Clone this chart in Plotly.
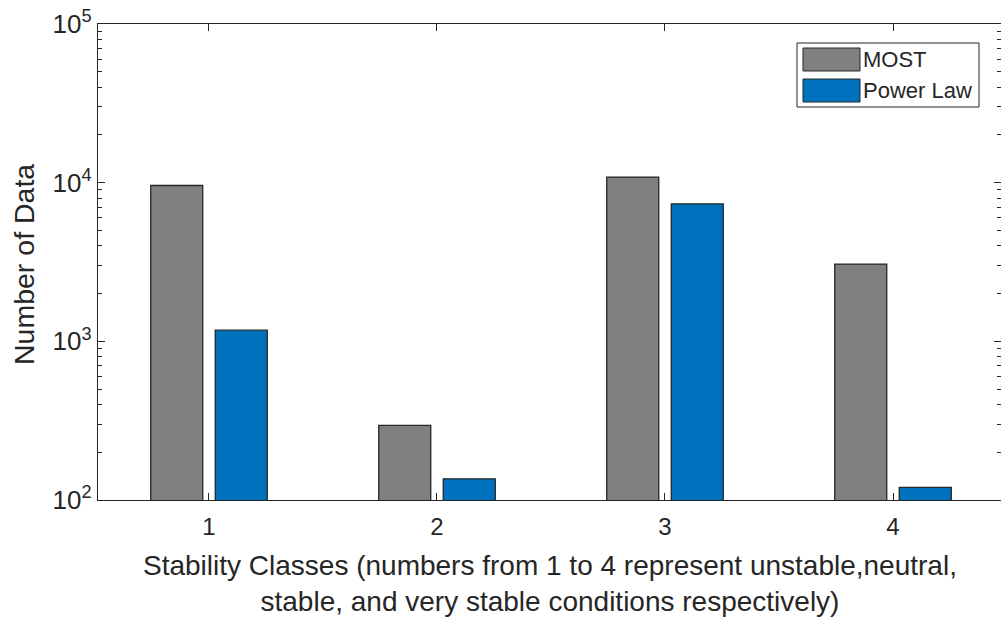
import plotly.graph_objects as go

# Counts per stability class for each method
classes = [1, 2, 3, 4]
most_counts = [9600, 295, 10850, 3070]
power_law_counts = [1175, 136, 7350, 120]

series_names = ["MOST", "Power Law"]
series_colors = ["#808080", "#0072BD"]

y_tick_vals = [1e2, 1e3, 1e4, 1e5]
y_tick_text = ["10<sup>2</sup>", "10<sup>3</sup>", "10<sup>4</sup>", "10<sup>5</sup>"]
minor_vals = [m * 10 ** e for e in (2, 3, 4) for m in range(2, 10)]

W, H = 1001, 624
L, R, T, B = 98, 0, 24, 124
FONT = "Liberation Sans, Arial, sans-serif"
TEXT = "#262626"


def px_x(p):
    return (p - L) / (W - L - R)


def px_y(p):
    return (H - B - p) / (H - T - B)


fig = go.Figure()
for name, vals, col in zip(series_names, [most_counts, power_law_counts], series_colors):
    fig.add_trace(go.Bar(
        x=classes, y=vals, name=name,
        marker=dict(color=col, line=dict(color="#262626", width=1.3)),
        showlegend=False,
    ))

axis_common = dict(
    showline=True, linecolor="#262626", linewidth=1.3, mirror="ticks",
    ticks="inside", tickcolor="#262626", showgrid=False, zeroline=False,
)

fig.update_layout(
    width=W, height=H,
    margin=dict(l=L, r=R, t=T, b=B),
    paper_bgcolor="white", plot_bgcolor="white",
    barmode="group", bargap=0.434, bargroupgap=0.194,
    font=dict(family=FONT, color=TEXT),
    xaxis=dict(
        **axis_common,
        range=[0.5132, 4.4737],
        tickvals=classes, ticktext=[str(c) for c in classes],
        ticklen=7, tickfont=dict(size=24, color=TEXT),
        ticklabelstandoff=5,
    ),
    yaxis=dict(
        **axis_common,
        type="log", range=[2, 5],
        tickvals=y_tick_vals, ticktext=y_tick_text,
        ticklen=7, tickfont=dict(size=26, color=TEXT),
        minor=dict(tickvals=minor_vals, ticks="inside", ticklen=4, tickcolor="#262626"),
    ),
)

# y-axis title
fig.add_annotation(
    text="Number of Data", textangle=-90,
    xref="paper", yref="paper", x=px_x(24), y=px_y(265),
    xanchor="center", yanchor="middle",
    showarrow=False, font=dict(size=28.5, color=TEXT),
)

# x-axis title (two lines)
fig.add_annotation(
    text="Stability Classes (numbers from 1 to 4 represent unstable,neutral,<br>"
         "stable, and very stable conditions respectively)",
    xref="paper", yref="paper", x=px_x(550), y=px_y(583),
    xanchor="center", yanchor="middle",
    showarrow=False, align="center", font=dict(size=28, color=TEXT),
)

# Legend box with swatches
fig.add_shape(type="rect", xref="paper", yref="paper",
              x0=px_x(797), x1=px_x(979), y0=px_y(43), y1=px_y(107),
              line=dict(color="#262626", width=1), fillcolor="white")
swatch_rows = [(48, 71), (79, 102)]
for (top, bot), name, col in zip(swatch_rows, series_names, series_colors):
    fig.add_shape(type="rect", xref="paper", yref="paper",
                  x0=px_x(803), x1=px_x(860), y0=px_y(top), y1=px_y(bot),
                  line=dict(color="#262626", width=1), fillcolor=col)
    fig.add_annotation(text=name, xref="paper", yref="paper",
                       x=px_x(861), y=px_y((top + bot) / 2),
                       xanchor="left", yanchor="middle",
                       showarrow=False, font=dict(size=22, color=TEXT))

fig.write_html("out.html")
